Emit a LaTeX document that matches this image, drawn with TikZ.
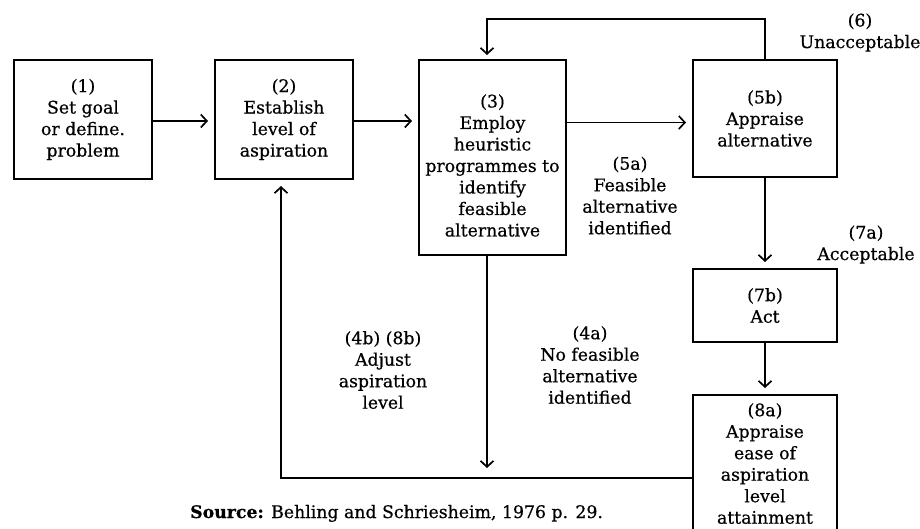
\documentclass[tikz,border=0pt]{standalone}
\usepackage{fontspec}
\setmainfont{DejaVu Serif}[FakeBold=0.6]
\usetikzlibrary{arrows.meta}
\tikzset{
  box/.style={draw, line width=1.7pt, rectangle, align=center, inner sep=2pt, outer sep=0pt,
    font=\fontsize{17.3}{21.5}\selectfont},
  txt/.style={align=center, inner sep=0pt, font=\fontsize{17.3}{21.5}\selectfont},
  arr/.style={line width=1.7pt, -{Straight Barb[length=6pt,width=13pt,line width=1.7pt]}, shorten >=7pt},
  ln/.style={line width=1.7pt}
}
\begin{document}
\begin{tikzpicture}[x=1pt,y=-1pt]
\useasboundingbox (0,0) rectangle (920,528);
\clip (0,0) rectangle (920,528);
% boxes
\node[box, minimum width=138pt, minimum height=119pt] (b1) at (83,119.5) {(1)\\Set goal\\or define.\\problem};
\node[box, minimum width=138pt, minimum height=119pt] (b2) at (284,119.5) {(2)\\Establish\\level of\\aspiration};
\node[box, minimum width=147pt, minimum height=195pt] (b3) at (492.5,157.5) {};
\node[txt] (t3) at (492.5,165.5) {(3)\\Employ\\heuristic\\programmes to\\identify\\feasible\\alternative};
\node[box, minimum width=144pt, minimum height=117pt] (b5b) at (765,118.5) {(5b)\\Appraise\\alternative};
\node[box, minimum width=144pt, minimum height=73pt] (b7b) at (765,305.5) {(7b)\\Act};
\node[box, minimum width=144pt, minimum height=137pt] (b8a) at (765,463.5) {(8a)\\Appraise\\ease of\\aspiration\\level\\attainment};
% labels
\node[txt] (l6) at (860,32.5) {(6)\\Unacceptable};
\node[txt] (l7a) at (866,244.5) {(7a)\\Acceptable};
\node[txt] (l5a) at (630,195.5) {(5a)\\Feasible\\alternative\\identified};
\node[txt] (l4b) at (383,370) {(4b) (8b)\\Adjust\\aspiration\\level};
\node[txt] (l4a) at (590,365) {(4a)\\No feasible\\alternative\\identified};
\node[txt, anchor=base west] (src) at (190,518) {\textbf{Source:} Behling and Schriesheim, 1976 p. 29.};
% coordinates
\coordinate (loopL) at (487,19);
\coordinate (bm) at (487,478);
\coordinate (bl) at (281,478);
% connectors
\draw[arr] ([yshift=-1.5pt]b1.east) -- ([yshift=-1.5pt]b2.west);
\draw[arr] ([yshift=-1.5pt]b2.east) -- ([yshift=-1.5pt]b2.east -| b3.west);
\draw[arr] ([yshift=-4pt]b3.east |- b5b.west) -- ([yshift=-4pt]b5b.west);
\draw[arr, shorten >=5pt] (b5b.north) |- (loopL) -- (loopL |- b3.north);
\draw[arr] (b5b.south) -- (b7b.north);
\draw[arr] (b7b.south) -- (b8a.north);
\draw[arr, shorten >=10pt] (loopL |- b3.south) -- (bm);
\draw[arr] (b8a.west |- bl) -- (bl) -- (bl |- b2.south);
\end{tikzpicture}
\end{document}
